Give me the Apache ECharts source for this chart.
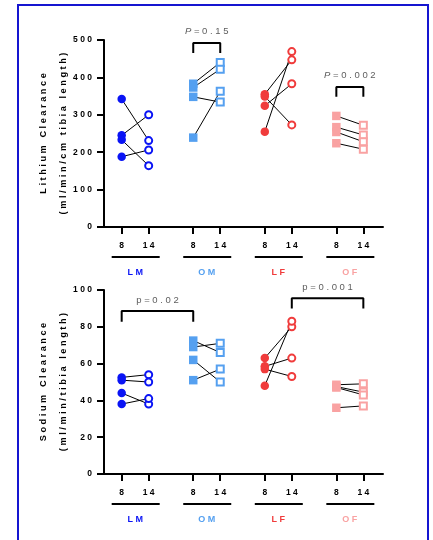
<!DOCTYPE html>
<html>
<head>
<meta charset="utf-8">
<script src="https://cdn.jsdelivr.net/npm/echarts@6/dist/echarts.min.js"></script>
<style>
html, body { margin: 0; padding: 0; background: #fff; }
#main { width: 433px; height: 540px; }
</style>
</head>
<body>
<div id="main"></div>
<script>
// groups and week labels
var groups = ['LM', 'OM', 'LF', 'OF'];
var groupColors = ['#0a14f5', '#55a0f0', '#f03c3c', '#f9a2a2'];
var weeks = ['8', '14'];
var xPos = [[1, 2], [3.65, 4.65], [6.3, 7.3], [8.95, 9.95]];

// lithium clearance, [week 8, week 14] per animal
var liLM = [[342, 231], [245, 300], [233, 164], [188, 206]];
var liOM = [[383, 440], [373, 422], [348, 334], [239, 363]];
var liLF = [[355, 447], [349, 273], [324, 383], [255, 469]];
var liOF = [[297, 272], [267, 246], [254, 228], [224, 208]];

// sodium clearance, [week 8, week 14] per animal
var naLM = [[52.5, 54], [51, 50], [44, 38], [38, 41]];
var naOM = [[72.5, 66], [69, 71], [62, 50], [51, 57]];
var naLF = [[63, 80], [58.5, 63], [57, 53], [48, 83]];
var naOF = [[48.5, 49], [47.5, 44.5], [47, 43], [36, 37]];

// p value brackets: [group, week] start/end, top, foot, text, text y
var liBrackets = [
  { from: [1, 0], to: [1, 1], top: 492, foot: 465, text: 'P = 0.15', ty: 524, italic: true },
  { from: [3, 0], to: [3, 1], top: 374, foot: 348, text: 'P = 0.002', ty: 406, italic: true }
];
var naBrackets = [
  { from: [0, 0], to: [1, 0], top: 88.6, foot: 82.8, text: 'p = 0.02', ty: 94.6 },
  { from: [2, 1], to: [3, 1], top: 95.5, foot: 90, text: 'p = 0.001', ty: 101.5 }
];

var FONT = '"Liberation Sans", Arial, sans-serif';
// spread letters like the original print
function sp(s) {
  return s.split(' ').map(function (w) { return w.split('').join(' '); }).join('   ');
}
function spTight(s) {
  return s.split(' ').map(function (w) { return w.split('').join(' '); }).join(' ');
}

var allX = [];
xPos.forEach(function (p) { allX.push(p[0], p[1]); });
function weekLabel(v) {
  for (var i = 0; i < allX.length; i++) {
    if (Math.abs(allX[i] - v) < 0.01) return sp(weeks[i % 2]);
  }
  return '';
}

function makeX(gi) {
  return {
    type: 'value', gridIndex: gi, min: 0.345, max: 10.678,
    splitLine: { show: false },
    axisLine: { show: true, onZero: false, lineStyle: { color: '#000', width: 2 } },
    axisTick: { show: true, customValues: allX, length: 7, lineStyle: { color: '#000', width: 2 } },
    axisLabel: { customValues: allX, formatter: weekLabel, margin: 14, color: '#000', fontSize: 8.5, fontWeight: 'bold', fontFamily: FONT }
  };
}
function makeY(gi, max, interval, name) {
  return {
    type: 'value', gridIndex: gi, min: 0, max: max, interval: interval,
    splitLine: { show: false },
    axisLine: { show: true, lineStyle: { color: '#000', width: 2 } },
    axisTick: { show: true, length: 7, lineStyle: { color: '#000', width: 2 } },
    axisLabel: { formatter: function (v) { return sp(String(v)); }, margin: 12, color: '#000', fontSize: 8.5, fontWeight: 'bold', fontFamily: FONT },
    name: name, nameLocation: 'middle', nameRotate: 90, nameGap: 31, nameMoveOverlap: false,
    nameTextStyle: { color: '#000', fontSize: 9.2, fontWeight: 'bold', fontFamily: FONT, lineHeight: 20 }
  };
}

var series = [];
function addPanel(gi, sets, brackets) {
  var segs = [];
  sets.forEach(function (pairs, g) {
    pairs.forEach(function (p) {
      segs.push({ coords: [[xPos[g][0], p[0]], [xPos[g][1], p[1]]] });
    });
  });
  series.push({
    type: 'lines', coordinateSystem: 'cartesian2d', xAxisIndex: gi, yAxisIndex: gi,
    data: segs, lineStyle: { color: '#000', width: 1, opacity: 1 }, z: 1, silent: true
  });
  sets.forEach(function (pairs, g) {
    var shape = (g % 2 === 0) ? 'circle' : 'rect';
    var col = groupColors[g];
    series.push({
      type: 'scatter', xAxisIndex: gi, yAxisIndex: gi, symbol: shape, symbolSize: 8.5,
      data: pairs.map(function (p) { return [xPos[g][0], p[0]]; }),
      itemStyle: { color: col, opacity: 1 }, z: 3, silent: true
    });
    series.push({
      type: 'scatter', xAxisIndex: gi, yAxisIndex: gi, symbol: shape, symbolSize: 7,
      data: pairs.map(function (p) { return [xPos[g][1], p[1]]; }),
      itemStyle: { color: '#fff', borderColor: col, borderWidth: 2, opacity: 1 }, z: 3, silent: true
    });
  });
  brackets.forEach(function (b) {
    var x1 = xPos[b.from[0]][b.from[1]], x2 = xPos[b.to[0]][b.to[1]];
    series.push({
      type: 'line', xAxisIndex: gi, yAxisIndex: gi, symbol: 'none', clip: false, silent: true,
      data: [[x1, b.foot], [x1, b.top], [x2, b.top], [x2, b.foot]],
      lineStyle: { color: '#000', width: 2 }, z: 2
    });
    var txt = b.italic ? '{i|P}' + spTight(b.text.slice(1)) : spTight(b.text);
    series.push({
      type: 'scatter', xAxisIndex: gi, yAxisIndex: gi, symbolSize: 0, clip: false, silent: true,
      data: [[(x1 + x2) / 2, b.ty]],
      label: {
        show: true, position: 'inside', formatter: txt,
        color: '#333', fontSize: 9.5, fontFamily: FONT,
        rich: { i: { fontStyle: 'italic', color: '#333', fontSize: 9.5, fontFamily: FONT } }
      }
    });
  });
}
addPanel(0, [liLM, liOM, liLF, liOF], liBrackets);
addPanel(1, [naLM, naOM, naLF, naOF], naBrackets);

var myChart = echarts.init(document.getElementById('main'));
myChart.setOption({
  animation: false,
  backgroundColor: '#fff',
  grid: [
    { left: 104, top: 40, width: 279, height: 187 },
    { left: 104, top: 290, width: 279, height: 184 }
  ],
  xAxis: [makeX(0), makeX(1)],
  yAxis: [
    makeY(0, 500, 100, sp('Lithium Clearance') + '\n' + sp('(ml/min/cm tibia length)')),
    makeY(1, 100, 20, sp('Sodium Clearance') + '\n' + sp('(ml/min/tibia length)'))
  ],
  series: series
});

// frame, group underlines and group names
var gfx = [{
  type: 'rect', shape: { x: 18, y: 5, width: 410, height: 560 },
  style: { fill: 'none', stroke: '#1515d0', lineWidth: 2 }, silent: true
}];
[0, 1].forEach(function (gi) {
  groups.forEach(function (name, g) {
    var a = myChart.convertToPixel({ xAxisIndex: gi, yAxisIndex: gi }, [xPos[g][0], 0]);
    var b = myChart.convertToPixel({ xAxisIndex: gi, yAxisIndex: gi }, [xPos[g][1], 0]);
    gfx.push({
      type: 'line', shape: { x1: a[0] - 10, y1: a[1] + 30, x2: b[0] + 11, y2: a[1] + 30 },
      style: { stroke: '#000', lineWidth: 2 }, silent: true
    });
    gfx.push({
      type: 'text', x: (a[0] + b[0]) / 2, y: a[1] + 46,
      style: { text: sp(name), fill: groupColors[g], font: 'bold 9px ' + FONT, align: 'center', verticalAlign: 'middle' },
      silent: true
    });
  });
});
myChart.setOption({ graphic: gfx });
</script>
</body>
</html>
